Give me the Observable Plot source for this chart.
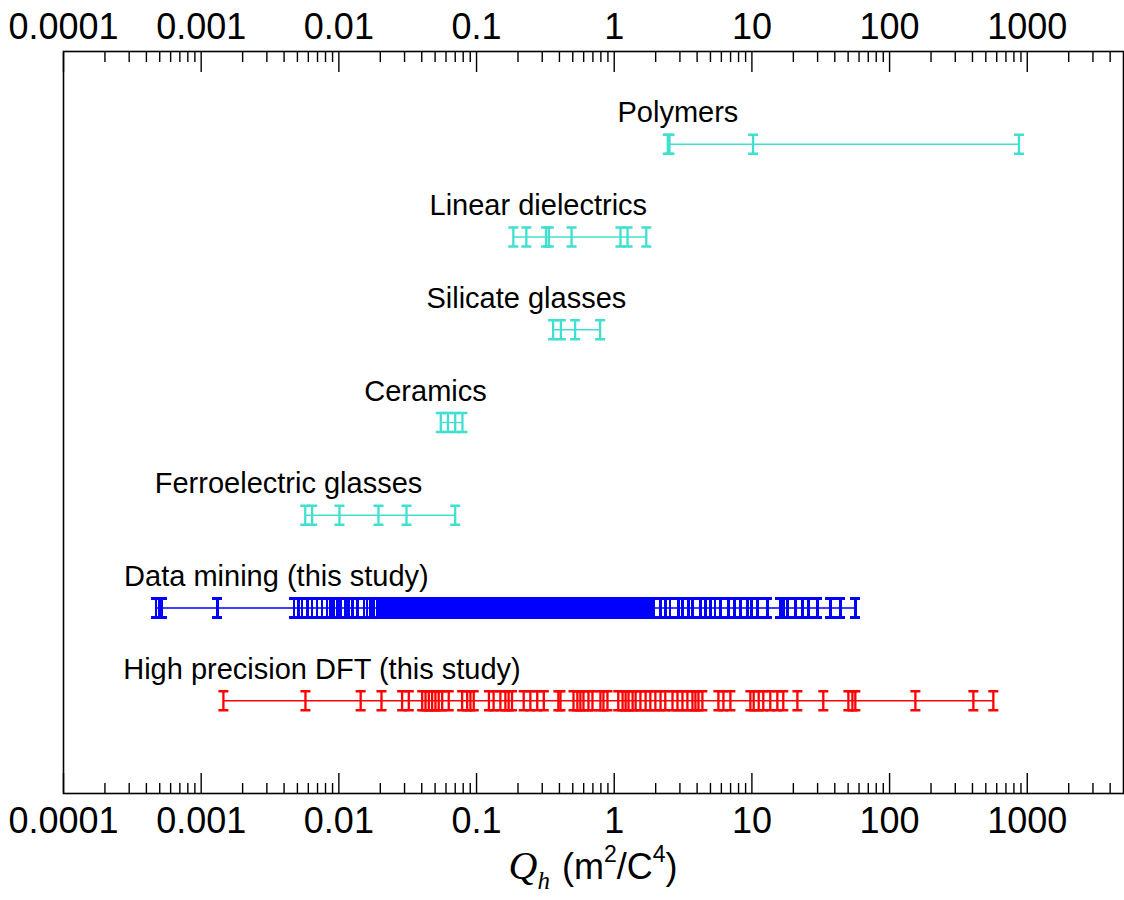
<!DOCTYPE html>
<html>
<head>
<meta charset="utf-8">
<script src="https://cdn.jsdelivr.net/npm/d3@7"></script>
<script src="https://cdn.jsdelivr.net/npm/@observablehq/plot@0.6"></script>
<style>
  body { margin: 0; background: #fff; }
  #wrap { position: relative; width: 1124px; height: 900px; background: #fff; }
  #xlabel { position: absolute; left: 63px; width: 1060px; top: 845px; text-align: center;
            font-family: "Liberation Sans", Arial, sans-serif; font-size: 36px; color: #000; line-height: 42px; }
  #xlabel .q { font-family: "Liberation Serif", serif; font-style: italic; font-size: 40px; }
  #xlabel .sub { font-family: "Liberation Serif", serif; font-style: italic; font-size: 25px; position: relative; top: 10px; margin-right: 2px; }
  #xlabel sup { font-size: 23px; position: relative; top: -4px; vertical-align: super; line-height: 0; }
</style>
</head>
<body>
<div id="wrap">
  <div id="chart"></div>
  <div id="xlabel"><span class="q">Q</span><span class="sub">h</span> (m<sup>2</sup>/C<sup>4</sup>)</div>
</div>
<script>
// ---- data ----
const categories = [
  "Polymers",
  "Linear dielectrics",
  "Silicate glasses",
  "Ceramics",
  "Ferroelectric glasses",
  "Data mining (this study)",
  "High precision DFT (this study)"
];

const polymers = [2.45, 2.52, 10.2, 870];
const linearDielectrics = [0.185, 0.23, 0.32, 0.335, 0.49, 1.11, 1.25, 1.71];
const silicateGlasses = [0.36, 0.41, 0.52, 0.79];
const ceramics = [0.055, 0.062, 0.070, 0.079];
const ferroelectricGlasses = [0.0057, 0.0064, 0.0101, 0.0194, 0.031, 0.070];
const dataMining = [
  0.00047, 0.00050, 0.00052, 0.00131,
  0.00471, 0.00511, 0.00541, 0.00589, 0.0064, 0.00696, 0.00756, 0.00822, 0.00869, 0.00918,
  0.00982, 0.0103, 0.0112, 0.0118, 0.0125, 0.0136, 0.0152, 0.0160, 0.0170, 0.0178,
  0.0190, 0.0196, 0.0203, 0.0209, 0.0217, 0.0224, 0.0231, 0.0239, 0.0247, 0.0256, 0.0264,
  0.0273, 0.0283, 0.0292, 0.0302, 0.0312, 0.0323, 0.0334, 0.0345, 0.0357, 0.0369, 0.0381,
  0.0394, 0.0408, 0.0421, 0.0436, 0.0450, 0.0466, 0.0481, 0.0498, 0.0515, 0.0532, 0.0550,
  0.0569, 0.0588, 0.0608, 0.0629, 0.0650, 0.0672, 0.0695, 0.0718, 0.0743, 0.0768, 0.0794,
  0.0821, 0.0849, 0.0878, 0.0908, 0.0939, 0.0970, 0.100, 0.104, 0.107, 0.111, 0.115, 0.119,
  0.123, 0.127, 0.131, 0.136, 0.140, 0.145, 0.150, 0.155, 0.160, 0.166, 0.171, 0.177, 0.183,
  0.189, 0.196, 0.203, 0.209, 0.217, 0.224, 0.232, 0.239, 0.248, 0.256, 0.265, 0.274, 0.283,
  0.293, 0.303, 0.313, 0.324, 0.335, 0.346, 0.358, 0.370, 0.383, 0.396, 0.409, 0.423, 0.438,
  0.453, 0.468, 0.484, 0.500, 0.517, 0.535, 0.553, 0.572, 0.591, 0.611, 0.632, 0.654, 0.676,
  0.699, 0.723, 0.747, 0.773, 0.799, 0.826, 0.854, 0.883, 0.913, 0.944, 0.976, 1.01, 1.04,
  1.08, 1.12, 1.15, 1.19, 1.23, 1.28, 1.32, 1.36, 1.41, 1.46, 1.51, 1.56, 1.61, 1.67, 1.72, 1.78,
  1.86, 1.95, 2.16, 2.35, 2.55, 2.93, 3.13, 3.46, 3.70, 4.23, 4.60, 5.0, 5.4, 5.91, 6.75, 7.5,
  8.25, 9.27, 9.9, 10.96, 12.95, 16.1, 17.0, 18.1, 20.7, 23.3, 25.7, 29.9, 37.2, 43.9, 56.4
];
const highPrecisionDFT = [
  0.00145, 0.00572, 0.0144, 0.0204, 0.0288, 0.0322, 0.0403, 0.0426, 0.045, 0.0476, 0.0503,
  0.0531, 0.0563, 0.0628, 0.0786, 0.0855, 0.0903, 0.0954, 0.123, 0.133, 0.149, 0.162, 0.171,
  0.181, 0.220, 0.246, 0.276, 0.308, 0.393, 0.407, 0.506, 0.540, 0.568, 0.598, 0.650, 0.695,
  0.794, 0.835, 0.893, 1.07, 1.15, 1.21, 1.27, 1.36, 1.43, 1.55, 1.69, 1.83, 1.99, 2.17, 2.35,
  2.65, 2.88, 3.13, 3.40, 3.70, 3.89, 4.09, 4.37, 5.71, 6.21, 6.98, 9.75, 10.3, 11.2, 12.1,
  13.6, 15.3, 16.9, 21.4, 33.0, 50.2, 53.7, 56.4, 154, 406, 567
];
// label anchor (centre of each group's title, in Q_h units)
const labelAt = [2.9, 0.281, 0.23, 0.0426, 0.00431, 0.00352, 0.00754];

const majorTicks = [0.0001, 0.001, 0.01, 0.1, 1, 10, 100, 1000];
const tickLabels = ["0.0001", "0.001", "0.01", "0.1", "1", "10", "100", "1000"];

// ---- build tables ----
const series = [polymers, linearDielectrics, silicateGlasses, ceramics, ferroelectricGlasses, dataMining, highPrecisionDFT];
const nRows = categories.length;
const points = [];
const ranges = [];
const labels = [];
series.forEach((vals, i) => {
  const row = nRows - i;
  vals.forEach(q => points.push({category: categories[i], row, q}));
  ranges.push({category: categories[i], row, min: d3.min(vals), max: d3.max(vals)});
  labels.push({category: categories[i], row, at: labelAt[i]});
});

const minorTicks = [];
for (let e = -4; e <= 3; e++) for (let m = 2; m <= 9; m++) {
  const v = m * Math.pow(10, e);
  if (v < 5000) minorTicks.push(+v.toPrecision(3));
}
const fmt = new Map(majorTicks.map((v, i) => [v, tickLabels[i]]));

const ibeam = {
  draw(context, size) {
    const r = Math.sqrt(size / Math.PI);
    const w = 5;
    context.moveTo(0, -r); context.lineTo(0, r);
    context.moveTo(-w, -r); context.lineTo(w, -r);
    context.moveTo(-w, r); context.lineTo(w, r);
  }
};

const colorRange = ["#40e0d0", "#40e0d0", "#40e0d0", "#40e0d0", "#40e0d0", "#0000ff", "#ff0000"];
const dense = categories[5];

const chart = Plot.plot({
  width: 1124,
  height: 845,
  marginLeft: 63,
  marginRight: 1,
  marginTop: 51,
  marginBottom: 52,
  style: {fontFamily: "'Liberation Sans', Arial, sans-serif", fontSize: "29px", background: "#fff", color: "#000"},
  x: {type: "log", domain: [0.0001, 5000]},
  y: {domain: [0, nRows + 1], axis: null},
  color: {domain: categories, range: colorRange},
  marks: [
    Plot.ruleY(ranges, {y: "row", x1: "min", x2: "max", stroke: "category", strokeWidth: 1.3}),
    Plot.dot(points, {filter: d => d.category !== dense, x: "q", y: "row", stroke: "category", symbol: ibeam, r: 9.5, fill: "none", strokeWidth: 2.3}),
    Plot.dot(points, {filter: d => d.category === dense, x: "q", y: "row", stroke: "category", symbol: ibeam, r: 9.5, fill: "none", strokeWidth: 2.6, shapeRendering: "crispEdges"}),
    Plot.text(labels, {x: "at", y: "row", text: "category", dy: -22, lineAnchor: "bottom", fontSize: 29, fill: "#000"}),
    Plot.axisX(majorTicks, {anchor: "top", tickSize: -20, tickFormat: () => "", label: null, strokeWidth: 1.4}),
    Plot.axisX(minorTicks, {anchor: "top", tickSize: -10, tickFormat: () => "", label: null, strokeWidth: 1.4}),
    Plot.axisX(majorTicks, {anchor: "top", tickSize: 0, tickPadding: 13, tickFormat: d => fmt.get(d), label: null, fontSize: 36}),
    Plot.axisX(majorTicks, {anchor: "bottom", tickSize: -20, tickFormat: () => "", label: null, strokeWidth: 1.4}),
    Plot.axisX(minorTicks, {anchor: "bottom", tickSize: -10, tickFormat: () => "", label: null, strokeWidth: 1.4}),
    Plot.axisX(majorTicks, {anchor: "bottom", tickSize: 0, tickPadding: 14, tickFormat: d => fmt.get(d), label: null, fontSize: 36}),
    Plot.frame({strokeWidth: 1.6})
  ]
});
document.getElementById("chart").appendChild(chart);
</script>
</body>
</html>
